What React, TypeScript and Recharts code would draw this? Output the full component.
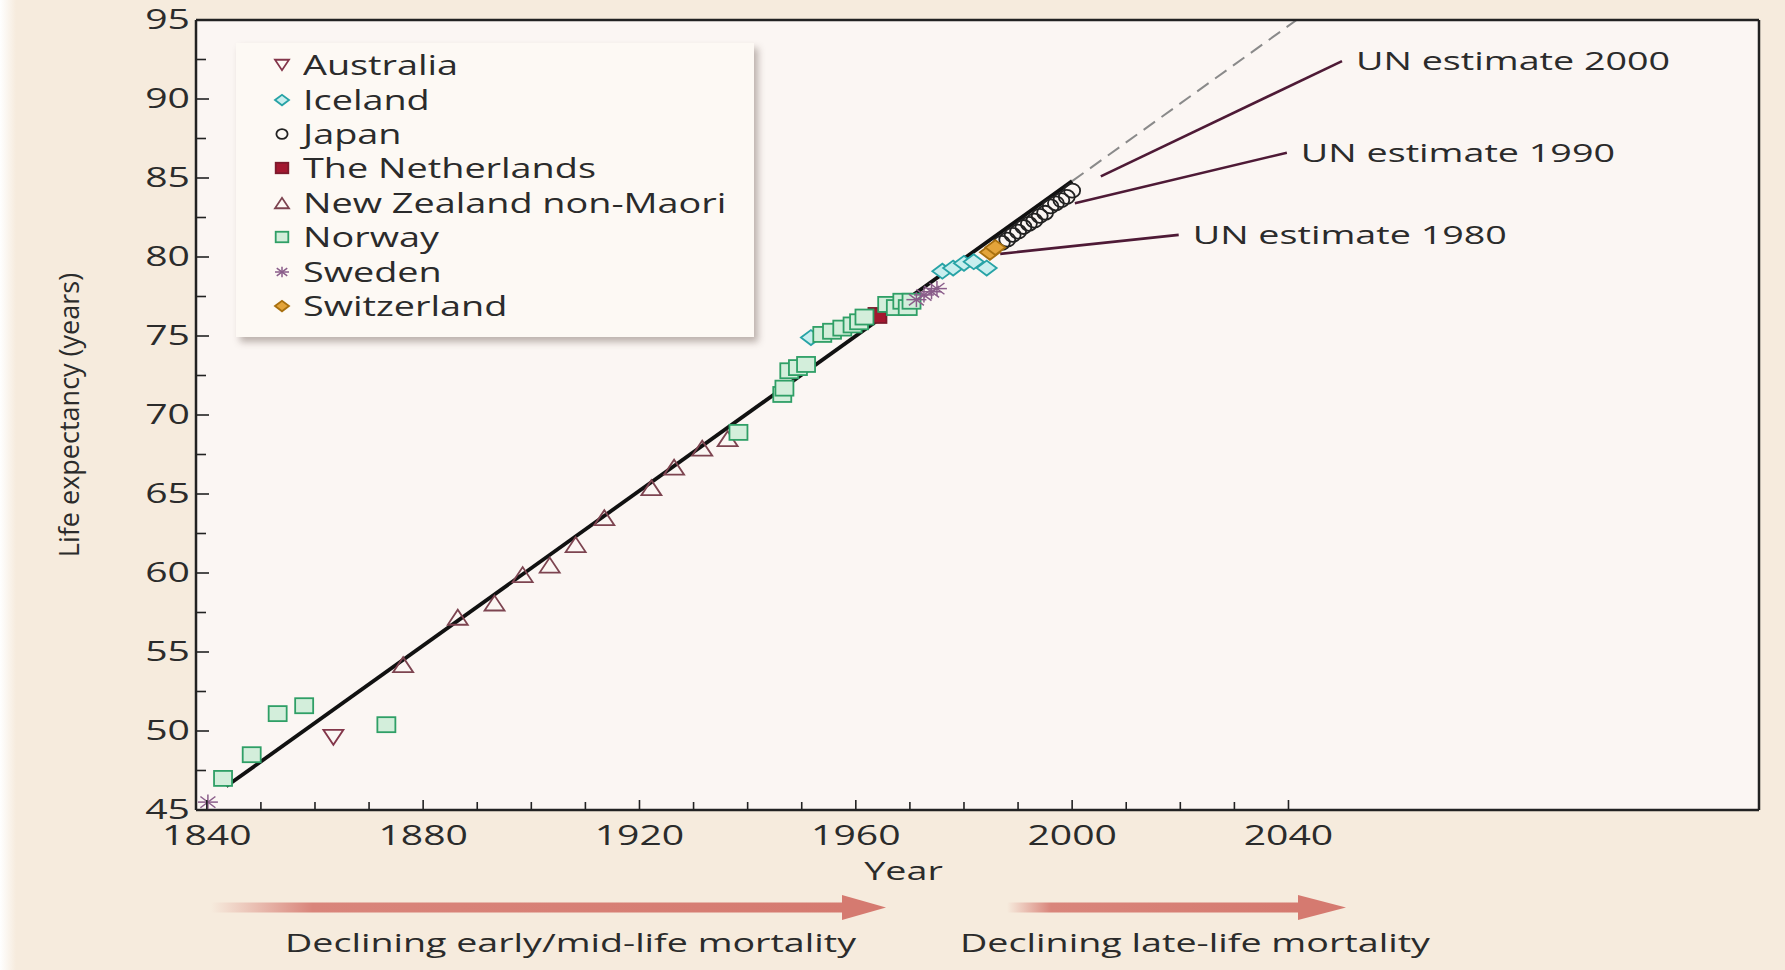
import React from 'react';
import {
  ComposedChart,
  Line,
  Scatter,
  XAxis,
  YAxis,
  Legend,
  CartesianGrid,
  LabelList,
  Label,
} from 'recharts';

const FONT = "'Open Sans', sans-serif";
const INK = '#2b2b2b';
const SX = 1.45; // source figure is stretched sideways, so text is too

// record life expectancy by country (year, years)
const australia = [{ year: 1863.4, le: 49.6 }];
const iceland = [
  { year: 1951.7, le: 74.9 },
  { year: 1976.0, le: 79.1 },
  { year: 1978.0, le: 79.3 },
  { year: 1980.0, le: 79.6 },
  { year: 1981.8, le: 79.7 },
  { year: 1984.2, le: 79.3 },
];
const japan = [
  { year: 1987, le: 80.9 },
  { year: 1988, le: 81.1 },
  { year: 1989, le: 81.4 },
  { year: 1990, le: 81.6 },
  { year: 1991, le: 81.9 },
  { year: 1992, le: 82.1 },
  { year: 1993, le: 82.3 },
  { year: 1994, le: 82.6 },
  { year: 1995, le: 82.8 },
  { year: 1996, le: 83.2 },
  { year: 1997, le: 83.4 },
  { year: 1998, le: 83.6 },
  { year: 1999, le: 83.8 },
  { year: 2000, le: 84.2 },
];
const netherlands = [{ year: 1964.0, le: 76.3 }];
const newZealand = [
  { year: 1876.3, le: 54.2 },
  { year: 1886.4, le: 57.2 },
  { year: 1893.2, le: 58.1 },
  { year: 1898.4, le: 59.9 },
  { year: 1903.4, le: 60.5 },
  { year: 1908.2, le: 61.8 },
  { year: 1913.5, le: 63.5 },
  { year: 1922.2, le: 65.4 },
  { year: 1926.4, le: 66.7 },
  { year: 1931.6, le: 67.9 },
  { year: 1936.3, le: 68.5 },
];
const norway = [
  { year: 1843.0, le: 47.0 },
  { year: 1848.3, le: 48.5 },
  { year: 1853.1, le: 51.1 },
  { year: 1858.0, le: 51.6 },
  { year: 1873.2, le: 50.4 },
  { year: 1938.3, le: 68.9 },
  { year: 1946.4, le: 71.3 },
  { year: 1946.8, le: 71.7 },
  { year: 1947.7, le: 72.8 },
  { year: 1949.3, le: 73.0 },
  { year: 1950.8, le: 73.2 },
  { year: 1953.8, le: 75.1 },
  { year: 1955.6, le: 75.3 },
  { year: 1957.5, le: 75.5 },
  { year: 1959.4, le: 75.7 },
  { year: 1960.6, le: 75.9 },
  { year: 1961.6, le: 76.2 },
  { year: 1965.8, le: 77.0 },
  { year: 1967.4, le: 76.8 },
  { year: 1968.6, le: 77.2 },
  { year: 1969.6, le: 76.8 },
  { year: 1970.3, le: 77.2 },
];
const sweden = [
  { year: 1840.2, le: 45.5 },
  { year: 1971.2, le: 77.3 },
  { year: 1972.6, le: 77.6 },
  { year: 1974.0, le: 77.8 },
  { year: 1975.0, le: 78.0 },
];
const switzerland = [
  { year: 1984.8, le: 80.3 },
  { year: 1985.8, le: 80.6 },
];

// linear trend and its extrapolation
const trendSolid = [
  { year: 1843.6, le: 46.5 },
  { year: 2000, le: 84.8 },
];
const trendDashed = [
  { year: 2000, le: 84.8 },
  { year: 2041.5, le: 95 },
];

// UN forecast pointers
const unLabels = ['UN estimate 2000', 'UN estimate 1990', 'UN estimate 1980'];
const un2000 = [
  { year: 2005.3, le: 85.1 },
  { year: 2049.9, le: 92.4 },
];
const un1990 = [
  { year: 2000.5, le: 83.4 },
  { year: 2039.7, le: 86.6 },
];
const un1980 = [
  { year: 1986.7, le: 80.2 },
  { year: 2019.7, le: 81.4 },
];

const xTicks = [
  1840, 1850, 1860, 1870, 1880, 1890, 1900, 1910, 1920, 1930, 1940,
  1950, 1960, 1970, 1980, 1990, 2000, 2010, 2020, 2030, 2040,
];
const labelledYears = [1840, 1880, 1920, 1960, 2000, 2040];
const yTicks = [
  45, 47.5, 50, 52.5, 55, 57.5, 60, 62.5, 65, 67.5, 70, 72.5, 75, 77.5, 80,
  82.5, 85, 87.5, 90, 92.5, 95,
];

const countries = [
  { name: 'Australia', data: australia, kind: 'triDown', stroke: '#83364a', fill: 'none' },
  { name: 'Iceland', data: iceland, kind: 'diamond', stroke: '#27a3a6', fill: '#c9eeee' },
  { name: 'Japan', data: japan, kind: 'circle', stroke: '#222222', fill: 'none' },
  { name: 'The Netherlands', data: netherlands, kind: 'square', stroke: '#7c1a2c', fill: '#a3172f' },
  { name: 'New Zealand non-Maori', data: newZealand, kind: 'triUp', stroke: '#7d4450', fill: 'none' },
  { name: 'Norway', data: norway, kind: 'square', stroke: '#2f9f66', fill: '#d3eedb' },
  { name: 'Sweden', data: sweden, kind: 'star', stroke: '#8a5d8a', fill: 'none' },
  { name: 'Switzerland', data: switzerland, kind: 'diamond', stroke: '#a8700f', fill: '#e3a43a' },
];

function Marker({ kind, cx, cy, stroke, fill, k = 1 }: any) {
  const w = 10 * k;
  const h = 7.5 * k;
  const common = { stroke, fill, strokeWidth: 1.8 };
  switch (kind) {
    case 'triDown':
      return <polygon points={`${cx - w},${cy - h} ${cx + w},${cy - h} ${cx},${cy + h}`} {...common} />;
    case 'triUp':
      return <polygon points={`${cx - w},${cy + h} ${cx + w},${cy + h} ${cx},${cy - h}`} {...common} />;
    case 'diamond':
      return <polygon points={`${cx - w},${cy} ${cx},${cy - h} ${cx + w},${cy} ${cx},${cy + h}`} {...common} />;
    case 'circle':
      return <ellipse cx={cx} cy={cy} rx={8 * k} ry={7 * k} {...common} />;
    case 'square':
      return <rect x={cx - 9 * k} y={cy - 7.5 * k} width={18 * k} height={15 * k} {...common} />;
    case 'star':
      return (
        <g stroke={stroke} strokeWidth={1.5}>
          <line x1={cx - w} y1={cy} x2={cx + w} y2={cy} />
          <line x1={cx} y1={cy - h} x2={cx} y2={cy + h} />
          <line x1={cx - w * 0.75} y1={cy - h * 0.75} x2={cx + w * 0.75} y2={cy + h * 0.75} />
          <line x1={cx - w * 0.75} y1={cy + h * 0.75} x2={cx + w * 0.75} y2={cy - h * 0.75} />
        </g>
      );
    default:
      return null;
  }
}

const XTick = ({ x, y, payload }: any) => {
  const major = labelledYears.includes(payload.value);
  return (
    <g>
      <line x1={x} y1={y} x2={x} y2={y - (major ? 10 : 8)} stroke="#222" strokeWidth={1.6} />
      {major && (
        <text
          transform={`translate(${x} ${y + 35}) scale(${SX} 1)`}
          textAnchor="middle"
          fontSize={27}
          fontFamily={FONT}
          fill={INK}
        >
          {payload.value}
        </text>
      )}
    </g>
  );
};

const TopTick = ({ x, y, payload }: any) => {
  const major = labelledYears.includes(payload.value);
  return <line x1={x} y1={y} x2={x} y2={y + (major ? 10 : 8)} stroke="#222" strokeWidth={1.6} />;
};

const YTick = ({ x, y, payload }: any) => {
  const major = payload.value % 5 === 0;
  return (
    <g>
      <line x1={x} y1={y} x2={x + (major ? 13 : 10)} y2={y} stroke="#222" strokeWidth={1.6} />
      {major && (
        <text
          transform={`translate(${x - 6} ${y + 9}) scale(${SX} 1)`}
          textAnchor="end"
          fontSize={27}
          fontFamily={FONT}
          fill={INK}
        >
          {payload.value}
        </text>
      )}
    </g>
  );
};

const YLabel = ({ viewBox }: any) => {
  const cx = viewBox.x + 22;
  const cy = viewBox.y + viewBox.height / 2;
  return (
    <text
      x={cx}
      y={cy}
      transform={`rotate(-90 ${cx} ${cy})`}
      textAnchor="middle"
      dominantBaseline="central"
      fontSize={27}
      fontFamily={FONT}
      fill={INK}
    >
      Life expectancy (years)
    </text>
  );
};

const XLabel = ({ viewBox }: any) => {
  const cx = viewBox.x + viewBox.width / 2 - 74;
  const cy = viewBox.y + 70;
  return (
    <text
      transform={`translate(${cx} ${cy}) scale(${SX} 1)`}
      textAnchor="middle"
      fontSize={26}
      fontFamily={FONT}
      fill={INK}
    >
      Year
    </text>
  );
};

const endLabel = (text: string) => (props: any) => {
  if (props.index !== 1) return null;
  return (
    <text
      transform={`translate(${props.x + 14} ${props.y + 9}) scale(${SX} 1)`}
      fontSize={26}
      fontFamily={FONT}
      fill={INK}
    >
      {text}
    </text>
  );
};

const LegendBox = () => (
  <div
    style={{
      width: 518,
      height: 294,
      boxSizing: 'border-box',
      paddingTop: 5,
      background: '#fdf9f4',
      boxShadow: '4px 5px 7px rgba(70, 50, 40, 0.35)',
      fontFamily: FONT,
      color: INK,
    }}
  >
    {countries.map((c) => (
      <div key={c.name} style={{ height: 34.4, display: 'flex', alignItems: 'center' }}>
        <svg width={67} height={34} style={{ flex: 'none' }}>
          <Marker kind={c.kind} cx={46} cy={17} stroke={c.stroke} fill={c.fill} k={0.7} />
        </svg>
        <span
          style={{
            display: 'inline-block',
            fontSize: 27,
            lineHeight: '34px',
            whiteSpace: 'nowrap',
            transform: 'scaleX(1.4)',
            transformOrigin: 'left center',
          }}
        >
          {c.name}
        </span>
      </div>
    ))}
  </div>
);

const App: React.FC = () => {
  return (
    <div
      style={{
        position: 'absolute',
        left: 0,
        top: 0,
        width: 1785,
        height: 970,
        background: 'linear-gradient(to right, #ffffff 0px, #f6ebdd 16px)',
      }}
    >
      <ComposedChart width={1785} height={970} margin={{ top: 19, right: 25, bottom: 100, left: 46 }}>
        <CartesianGrid horizontal={false} vertical={false} fill="#fbf6f3" />
        <XAxis
          type="number"
          dataKey="year"
          domain={[1838, 2127]}
          ticks={xTicks}
          allowDataOverflow
          height={60}
          tickSize={0}
          tickMargin={0}
          tickLine={false}
          tick={<XTick />}
          axisLine={{ stroke: '#222', strokeWidth: 2.5 }}
        >
          <Label content={<XLabel />} />
        </XAxis>
        <XAxis
          xAxisId="top"
          orientation="top"
          type="number"
          domain={[1838, 2127]}
          ticks={xTicks}
          allowDataOverflow
          height={1}
          tickSize={0}
          tickMargin={0}
          tickLine={false}
          tick={<TopTick />}
          axisLine={{ stroke: '#222', strokeWidth: 2.5 }}
        />
        <YAxis
          type="number"
          dataKey="le"
          domain={[45, 95]}
          ticks={yTicks}
          allowDataOverflow
          width={150}
          tickSize={0}
          tickMargin={0}
          tickLine={false}
          tick={<YTick />}
          axisLine={{ stroke: '#222', strokeWidth: 2.5 }}
        >
          <Label content={<YLabel />} />
        </YAxis>
        <YAxis
          yAxisId="right"
          orientation="right"
          type="number"
          domain={[45, 95]}
          ticks={[45, 95]}
          width={1}
          tick={false}
          tickLine={false}
          axisLine={{ stroke: '#222', strokeWidth: 2.5 }}
        />
        <Legend
          layout="vertical"
          align="center"
          verticalAlign="middle"
          content={() => <LegendBox />}
          wrapperStyle={{ left: 236, top: 43, width: 518, height: 294 }}
        />

        <Line data={trendDashed} dataKey="le" stroke="#8a8a8a" strokeWidth={2} strokeDasharray="14 8" dot={false} isAnimationActive={false} />
        <Line data={trendSolid} dataKey="le" stroke="#111" strokeWidth={3.8} dot={false} isAnimationActive={false} />

        {countries.map((c) => (
          <Scatter
            key={c.name}
            name={c.name}
            data={c.data}
            isAnimationActive={false}
            shape={(p: any) => <Marker kind={c.kind} cx={p.cx} cy={p.cy} stroke={c.stroke} fill={c.fill} />}
          />
        ))}

        <Line data={un2000} dataKey="le" stroke="#4e1a36" strokeWidth={2.6} dot={false} isAnimationActive={false}>
          <LabelList dataKey="le" content={endLabel(unLabels[0])} />
        </Line>
        <Line data={un1990} dataKey="le" stroke="#4e1a36" strokeWidth={2.6} dot={false} isAnimationActive={false}>
          <LabelList dataKey="le" content={endLabel(unLabels[1])} />
        </Line>
        <Line data={un1980} dataKey="le" stroke="#4e1a36" strokeWidth={2.6} dot={false} isAnimationActive={false}>
          <LabelList dataKey="le" content={endLabel(unLabels[2])} />
        </Line>
      </ComposedChart>

      {/* mortality arrows under the x axis */}
      <svg width={1785} height={110} style={{ position: 'absolute', left: 0, top: 860 }}>
        <defs>
          <linearGradient id="fadeA" x1="211" x2="846" y1="0" y2="0" gradientUnits="userSpaceOnUse">
            <stop offset="0" stopColor="#d9857b" stopOpacity="0" />
            <stop offset="0.16" stopColor="#d9857b" stopOpacity="1" />
            <stop offset="1" stopColor="#d57a70" stopOpacity="1" />
          </linearGradient>
          <linearGradient id="fadeB" x1="1007" x2="1300" y1="0" y2="0" gradientUnits="userSpaceOnUse">
            <stop offset="0" stopColor="#d9857b" stopOpacity="0" />
            <stop offset="0.15" stopColor="#d9857b" stopOpacity="1" />
            <stop offset="1" stopColor="#d57a70" stopOpacity="1" />
          </linearGradient>
        </defs>
        <rect x={211} y={42.5} width={635} height={10} fill="url(#fadeA)" />
        <polygon points="842,35 886,47.5 842,60" fill="#d57a70" />
        <rect x={1007} y={42.5} width={293} height={10} fill="url(#fadeB)" />
        <polygon points="1298,35 1346,47.5 1298,60" fill="#d57a70" />
        <text x={285} y={92} textLength={571} lengthAdjust="spacingAndGlyphs" fontSize={26} fontFamily={FONT} fill={INK}>
          Declining early/mid-life mortality
        </text>
        <text x={960} y={92} textLength={470} lengthAdjust="spacingAndGlyphs" fontSize={26} fontFamily={FONT} fill={INK}>
          Declining late-life mortality
        </text>
      </svg>
    </div>
  );
};

export default App;
